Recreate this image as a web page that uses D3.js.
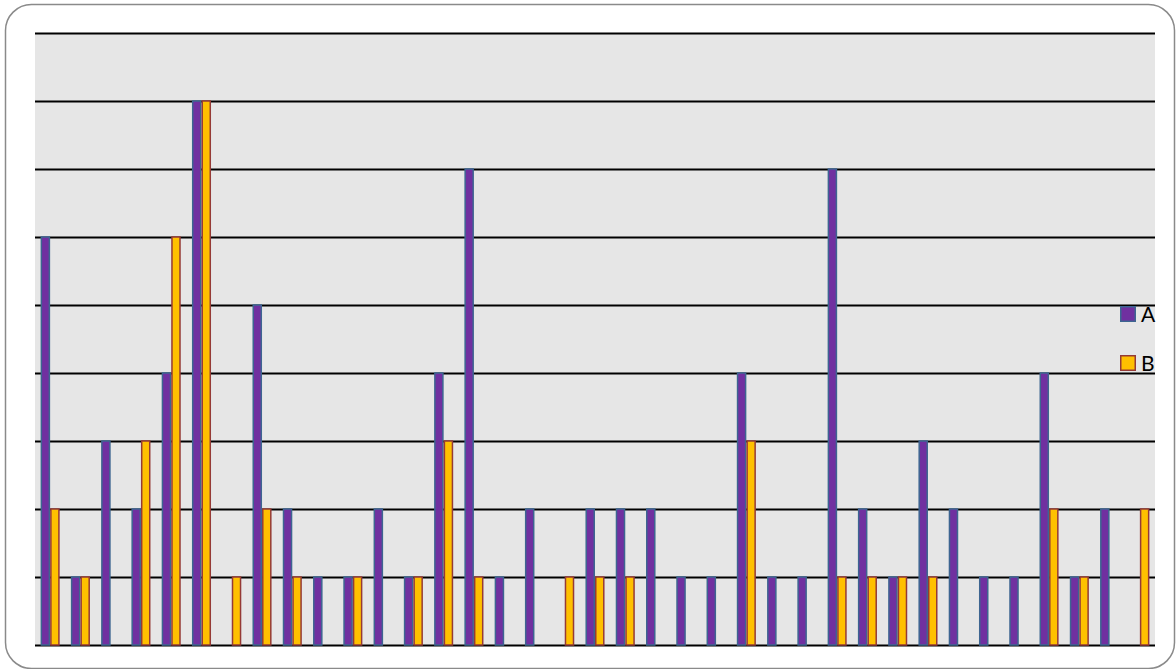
<!DOCTYPE html>
<html>
<head>
<meta charset="utf-8">
<script src="https://cdn.jsdelivr.net/npm/d3@7/dist/d3.min.js"></script>
<style>
  html, body { margin: 0; padding: 0; background: #ffffff; }
  svg { display: block; }
</style>
</head>
<body>
<svg id="chart" width="1176" height="669"></svg>
<script>
// Category indices (37 groups, unlabeled on the chart)
const categories = d3.range(37).map(i => "C" + (i + 1));
const seriesNames = ["A", "B"];
const valuesA = [6,1,3,2,4,8,0,5,2,1,1,2,1,4,7,1,2,0,2,2,2,1,1,4,1,1,7,2,1,3,2,1,1,4,1,2,0];
const valuesB = [2,1,0,3,6,8,1,2,1,0,1,0,1,3,1,0,0,1,1,1,0,0,0,3,0,0,1,1,1,1,0,0,0,2,1,0,2];
const yTicks = [0,1,2,3,4,5,6,7,8,9];

const fills = { A: "#7030A0", B: "#FFC000" };
const strokes = { A: "#3D6591", B: "#953A36" };

const svg = d3.select("#chart");

// Outer rounded frame
svg.append("rect")
  .attr("x", 5.5).attr("y", 4.5)
  .attr("width", 1169).attr("height", 664)
  .attr("rx", 26).attr("ry", 26)
  .attr("fill", "#ffffff")
  .attr("stroke", "#8a8a8a")
  .attr("stroke-width", 1.5);

const plot = { left: 35, right: 1155, top: 33, bottom: 645 };

const x = d3.scaleBand()
  .domain(categories)
  .range([plot.left, plot.right])
  .paddingInner(0.37)
  .paddingOuter(0.185);

const xs = d3.scaleBand()
  .domain(seriesNames)
  .range([0, x.bandwidth()]);

const y = d3.scaleLinear()
  .domain([0, 9])
  .range([plot.bottom, plot.top]);

// Plot area background
svg.append("rect")
  .attr("x", plot.left).attr("y", plot.top)
  .attr("width", plot.right - plot.left)
  .attr("height", plot.bottom - plot.top)
  .attr("fill", "#E6E6E6");

// Horizontal gridlines from the value axis
const yAxis = d3.axisLeft(y)
  .tickValues(yTicks)
  .tickSize(-(plot.right - plot.left))
  .tickFormat("");
const gGrid = svg.append("g")
  .attr("transform", `translate(${plot.left},0)`)
  .call(yAxis);
gGrid.select(".domain").remove();
gGrid.selectAll(".tick line")
  .attr("stroke", "#000000")
  .attr("stroke-width", 2);

// Bars
const rows = categories.map((c, i) => ({ cat: c, A: valuesA[i], B: valuesB[i] }));
const groups = svg.append("g").selectAll("g")
  .data(rows)
  .join("g")
  .attr("transform", d => `translate(${x(d.cat)},0)`);

groups.selectAll("rect")
  .data(d => seriesNames.map(s => ({ s, v: d[s] })).filter(e => e.v > 0))
  .join("rect")
  .attr("x", e => xs(e.s) + 0.75)
  .attr("width", xs.bandwidth() - 1.5)
  .attr("y", e => y(e.v))
  .attr("height", e => y(0) - y(e.v))
  .attr("fill", e => fills[e.s])
  .attr("stroke", e => strokes[e.s])
  .attr("stroke-width", 1.5);

// Legend
const legend = svg.append("g").attr("transform", "translate(1120,306)");
seriesNames.forEach((s, i) => {
  const g = legend.append("g").attr("transform", `translate(0,${i * 49})`);
  g.append("rect")
    .attr("x", 0.75).attr("y", 0.75)
    .attr("width", 14.5).attr("height", 14.5)
    .attr("fill", fills[s])
    .attr("stroke", strokes[s])
    .attr("stroke-width", 1.5);
  g.append("text")
    .attr("x", 21).attr("y", 15.5)
    .attr("font-family", "Lato, 'Open Sans', sans-serif")
    .attr("font-size", 21)
    .attr("fill", "#000000")
    .text(s);
});
</script>
</body>
</html>
